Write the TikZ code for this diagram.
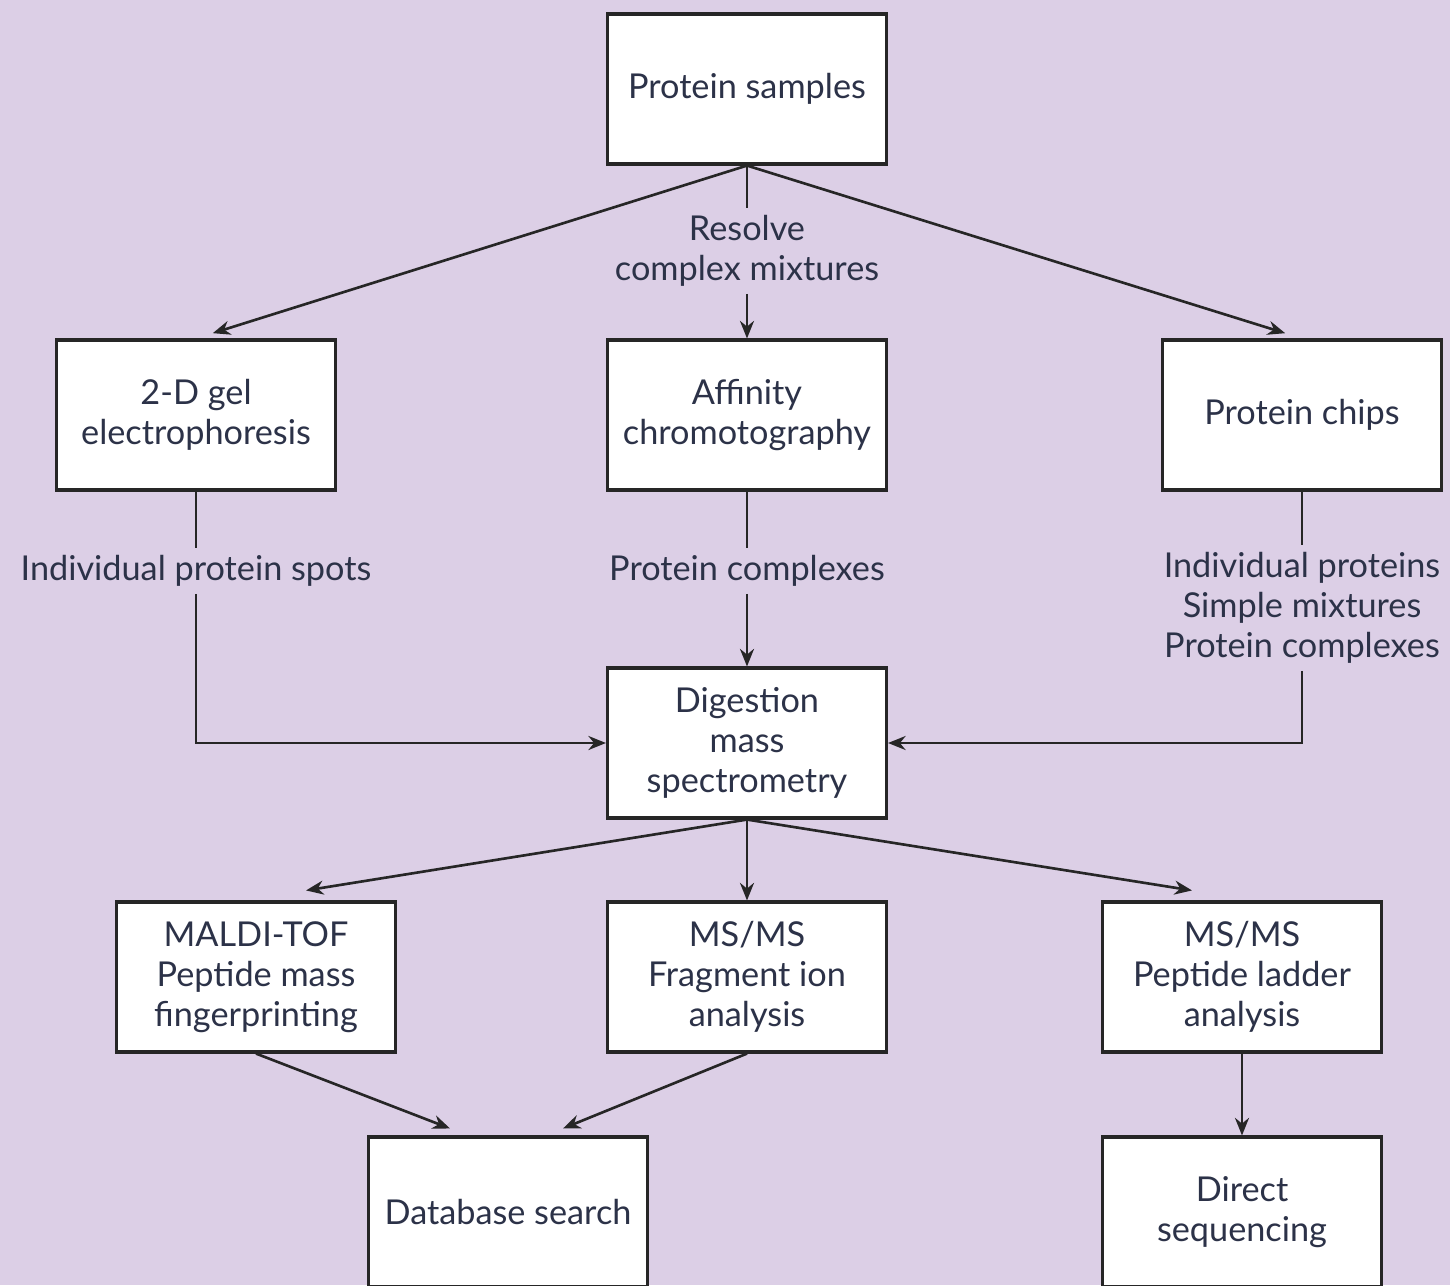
\documentclass[tikz,border=0pt]{standalone}
\usepackage{fontspec}
\setmainfont{Lato}
\usetikzlibrary{arrows.meta, calc}
\definecolor{lavender}{RGB}{220,207,230}
\definecolor{inkblue}{RGB}{44,50,72}

\begin{document}
\begin{tikzpicture}[x=0.02cm, y=-0.02cm,
every edge/.style = {draw=black!85, line width=1.5pt},
 flow/.style = {-{Stealth[length=10pt,width=8pt]}},
 conn/.style = {draw=black!85, line width=1.5pt},
  box/.style = {rectangle, draw=black!85, line width=1.8pt, fill=white,
      minimum width=5.58cm, minimum height=3cm, align=center,
      text=inkblue, font=\fontsize{19.5}{22.7}\selectfont},
  lbl/.style = {align=center, text=inkblue, inner sep=4pt,
      font=\fontsize{19.5}{22.7}\selectfont}
                    ]
\fill[lavender] (0,0) rectangle (1450,1285);
\useasboundingbox (0,0) rectangle (1450,1285);
% boxes
\node(samples) [box] at (747, 89) {Protein samples};
\node(gel)     [box] at (196,415) {2-D gel\\electrophoresis};
\node(affin)   [box] at (747,415) {Affinity\\chromotography};
\node(chips)   [box] at (1302,415) {Protein chips};
\node(digest)  [box] at (747,743) {Digestion\\mass\\spectrometry};
\node(maldi)   [box] at (256,977) {MALDI-TOF\\Peptide mass\\fingerprinting};
\node(frag)    [box] at (747,977) {MS/MS\\Fragment ion\\analysis};
\node(ladder)  [box] at (1242,977) {MS/MS\\Peptide ladder\\analysis};
\node(dbase)   [box] at (508,1212) {Database search};
\node(direct)  [box] at (1242,1212) {Direct\\sequencing};
% labels on the lines
\node(resolve) [lbl] at (747,251) {Resolve\\complex mixtures};
\node(spots)   [lbl] at (196,571) {Individual protein spots};
\node(cplx)    [lbl] at (747,571) {Protein complexes};
\node(mixes)   [lbl] at (1302,608) {Individual proteins\\Simple mixtures\\Protein complexes};
%
\path   (samples.south) edge[flow, shorten >=10pt] (gel.north)
        (samples.south) edge[flow, shorten >=10pt] (chips.north)
        (samples.south) edge (resolve.north)
        (resolve.south) edge[flow] (affin.north)
        (gel.south) edge (spots.north)
        (affin.south) edge (cplx.north)
        (cplx.south) edge[flow] (digest.north)
        (chips.south) edge (mixes.north);
\draw[conn, flow] (spots.south) |- (digest.west);
\draw[conn, flow] (mixes.south) |- (digest.east);
%
\path   (digest.south) edge[flow] ($(maldi.north)+(50,-10)$)
        (digest.south) edge[flow] (frag.north)
        (digest.south) edge[flow] ($(ladder.north)+(-50,-10)$)
        (maldi.south) edge[flow] ($(dbase.north)+(-58,-7)$)
        (frag.south) edge[flow] ($(dbase.north)+(55,-7)$)
        (ladder.south) edge[flow] (direct.north);
\end{tikzpicture}
\end{document}
